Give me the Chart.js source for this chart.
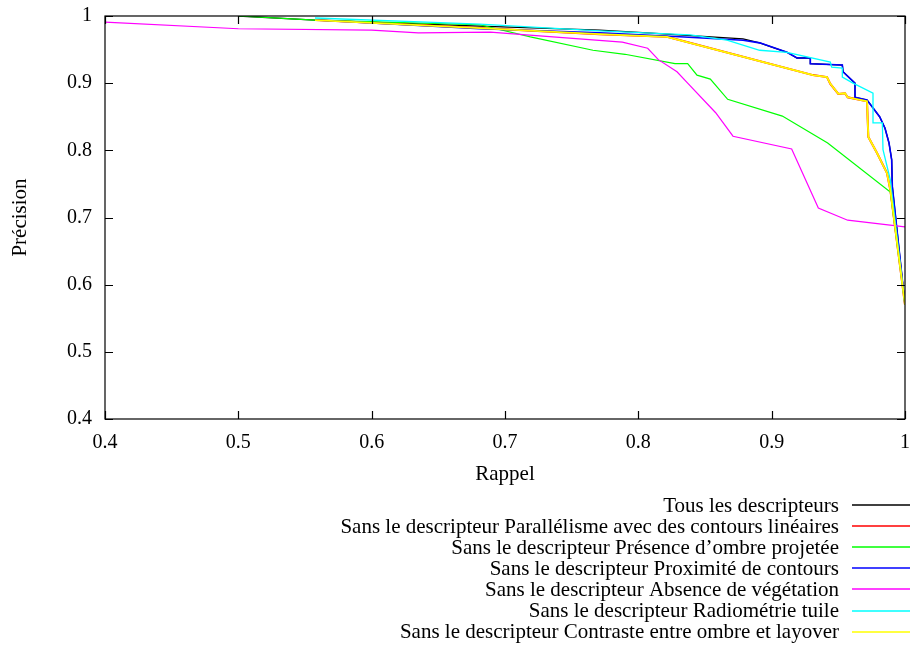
<!DOCTYPE html>
<html>
<head>
<meta charset="utf-8">
<script src="https://cdn.jsdelivr.net/npm/chart.js@4"></script>
<style>
  body { margin: 0; background: #fff; }
  canvas { display: block; }
</style>
</head>
<body>
<canvas id="chart" width="913" height="647"></canvas>
<script>
// labels de la légende
const labels = [
    'Tous les descripteurs',
    'Sans le descripteur Parallélisme avec des contours linéaires',
    'Sans le descripteur Présence d\u2019ombre projetée',
    'Sans le descripteur Proximité de contours',
    'Sans le descripteur Absence de végétation',
    'Sans le descripteur Radiométrie tuile',
    'Sans le descripteur Contraste entre ombre et layover'
];
const colors = ['#000000', '#ff0000', '#00ff00', '#0000ff', '#ff00ff', '#00ffff', '#ffff00'];

const xTicks = [0.4, 0.5, 0.6, 0.7, 0.8, 0.9, 1];
const yTicks = [0.4, 0.5, 0.6, 0.7, 0.8, 0.9, 1];

// rappel / précision de chaque courbe
const rappelTous = [0.5, 0.5575, 0.681, 0.771, 0.8065, 0.8785, 0.891, 0.9115, 0.919, 0.929, 0.929, 0.953, 0.9535, 0.9625, 0.9625, 0.9715, 0.981, 0.985, 0.988, 0.990, 0.9905, 1.0];
const precisionTous = [1.0, 0.994, 0.985, 0.979, 0.975, 0.966, 0.960, 0.946, 0.9375, 0.9375, 0.929, 0.927, 0.917, 0.900, 0.879, 0.875, 0.850, 0.833, 0.811, 0.786, 0.746, 0.570];

const rappelParallelisme = [0.5575, 0.681, 0.771, 0.8215, 0.931, 0.9415, 0.944, 0.950, 0.955, 0.957, 0.9715, 0.9725, 0.979, 0.9865, 0.989, 1.0];
const precisionParallelisme = [0.994, 0.982, 0.973, 0.969, 0.912, 0.909, 0.899, 0.884, 0.885, 0.879, 0.873, 0.820, 0.796, 0.766, 0.741, 0.570];

const rappelOmbre = [0.5, 0.5575, 0.681, 0.719, 0.766, 0.790, 0.8275, 0.837, 0.844, 0.854, 0.867, 0.908, 0.942, 0.989, 1.0];
const precisionOmbre = [1.0, 0.994, 0.987, 0.969, 0.949, 0.943, 0.929, 0.929, 0.912, 0.906, 0.876, 0.851, 0.811, 0.738, 0.570];

const rappelProximite = [0.5575, 0.681, 0.771, 0.831, 0.8785, 0.891, 0.9115, 0.919, 0.929, 0.929, 0.953, 0.9535, 0.9625, 0.9625, 0.9715, 0.981, 0.985, 0.988, 0.990, 0.9905, 1.0];
const precisionProximite = [0.994, 0.981, 0.975, 0.969, 0.964, 0.960, 0.946, 0.9375, 0.9375, 0.929, 0.927, 0.917, 0.900, 0.879, 0.875, 0.850, 0.833, 0.811, 0.786, 0.746, 0.570];

const rappelVegetation = [0.4, 0.5, 0.6, 0.635, 0.689, 0.716, 0.788, 0.807, 0.815, 0.829, 0.837, 0.858, 0.871, 0.915, 0.935, 0.957, 1.0];
const precisionVegetation = [0.991, 0.981, 0.979, 0.975, 0.976, 0.972, 0.961, 0.952, 0.935, 0.917, 0.900, 0.856, 0.821, 0.802, 0.714, 0.696, 0.686];

const rappelRadiometrie = [0.5575, 0.681, 0.771, 0.839, 0.8665, 0.891, 0.9115, 0.944, 0.945, 0.953, 0.953, 0.961, 0.976, 0.976, 0.983, 0.9835, 0.989, 1.0];
const precisionRadiometrie = [0.997, 0.988, 0.978, 0.972, 0.964, 0.949, 0.946, 0.9315, 0.924, 0.9226, 0.909, 0.900, 0.885, 0.841, 0.841, 0.801, 0.756, 0.570];

const rappelContraste = rappelParallelisme;
const precisionContraste = precisionParallelisme;

const rappels = [rappelTous, rappelParallelisme, rappelOmbre, rappelProximite, rappelVegetation, rappelRadiometrie, rappelContraste];
const precisions = [precisionTous, precisionParallelisme, precisionOmbre, precisionProximite, precisionVegetation, precisionRadiometrie, precisionContraste];
const widths = [1.3, 2.0, 1.2, 1.6, 1.2, 1.3, 1.8];

const FONT = 'Liberation Serif, Times New Roman, serif';

// cadre + graduations vers l'intérieur
const framePlugin = {
    id: 'frame',
    afterDatasetsDraw(chart) {
        const { ctx, chartArea: a, scales } = chart;
        ctx.save();
        ctx.strokeStyle = '#000';
        ctx.lineWidth = 1.2;
        ctx.strokeRect(a.left, a.top, a.right - a.left, a.bottom - a.top);
        ctx.beginPath();
        xTicks.forEach(v => {
            const px = Math.round(scales.x.getPixelForValue(v)) + 0.5;
            ctx.moveTo(px, a.bottom); ctx.lineTo(px, a.bottom - 8);
            ctx.moveTo(px, a.top); ctx.lineTo(px, a.top + 8);
        });
        yTicks.forEach(v => {
            const py = Math.round(scales.y.getPixelForValue(v)) + 0.5;
            ctx.moveTo(a.left, py); ctx.lineTo(a.left + 8, py);
            ctx.moveTo(a.right, py); ctx.lineTo(a.right - 8, py);
        });
        ctx.stroke();
        ctx.restore();
    }
};

// légende façon gnuplot : texte aligné à droite, échantillon de trait à droite
const legendPlugin = {
    id: 'gnuLegend',
    afterDraw(chart) {
        const { ctx, chartArea: a } = chart;
        ctx.save();
        ctx.font = '21px ' + FONT;
        ctx.fillStyle = '#000';
        ctx.textAlign = 'right';
        ctx.textBaseline = 'middle';
        chart.data.datasets.forEach((ds, i) => {
            const y = a.bottom + 86 + i * 21.1;
            ctx.fillText(ds.label, 839, y + 1);
            ctx.strokeStyle = colors[i];
            ctx.lineWidth = 1.5;
            ctx.beginPath();
            ctx.moveTo(852, Math.round(y));
            ctx.lineTo(910, Math.round(y));
            ctx.stroke();
        });
        ctx.restore();
    }
};

const datasets = labels.map((label, i) => ({
    label,
    data: rappels[i].map((x, k) => ({ x, y: precisions[i][k] })),
    borderColor: colors[i],
    backgroundColor: colors[i],
    borderWidth: widths[i],
    pointRadius: 0,
    fill: false,
    tension: 0,
    order: labels.length - i
}));

new Chart(document.getElementById('chart'), {
    type: 'line',
    data: { datasets },
    options: {
        responsive: false,
        animation: false,
        devicePixelRatio: 1,
        layout: { padding: { top: 16, right: 8, bottom: 148, left: 0 } },
        plugins: {
            legend: { display: false },
            tooltip: { enabled: false }
        },
        scales: {
            x: {
                type: 'linear',
                min: 0.4,
                max: 1,
                afterFit: s => { s.height = 80; s.paddingLeft = 0; s.paddingRight = 0; },
                afterBuildTicks: s => { s.ticks = xTicks.map(value => ({ value })); },
                grid: { display: false, drawTicks: false },
                border: { display: false },
                ticks: {
                    color: '#000',
                    font: { family: FONT, size: 20 },
                    padding: 12,
                    maxRotation: 0,
                    callback: v => String(+v.toFixed(1))
                },
                title: {
                    display: true,
                    text: 'Rappel',
                    color: '#000',
                    font: { family: FONT, size: 21 },
                    padding: { top: 0, bottom: 12 }
                }
            },
            y: {
                type: 'linear',
                min: 0.4,
                max: 1,
                afterFit: s => { s.width = 105; s.paddingTop = 0; s.paddingBottom = 0; },
                afterBuildTicks: s => { s.ticks = yTicks.map(value => ({ value })); },
                grid: { display: false, drawTicks: false },
                border: { display: false },
                ticks: {
                    color: '#000',
                    font: { family: FONT, size: 20 },
                    padding: 13,
                    callback: v => String(+v.toFixed(1))
                },
                title: {
                    display: true,
                    text: 'Précision',
                    color: '#000',
                    font: { family: FONT, size: 21 },
                    padding: { top: 8, bottom: 0 }
                }
            }
        }
    },
    plugins: [framePlugin, legendPlugin]
});
</script>
</body>
</html>
